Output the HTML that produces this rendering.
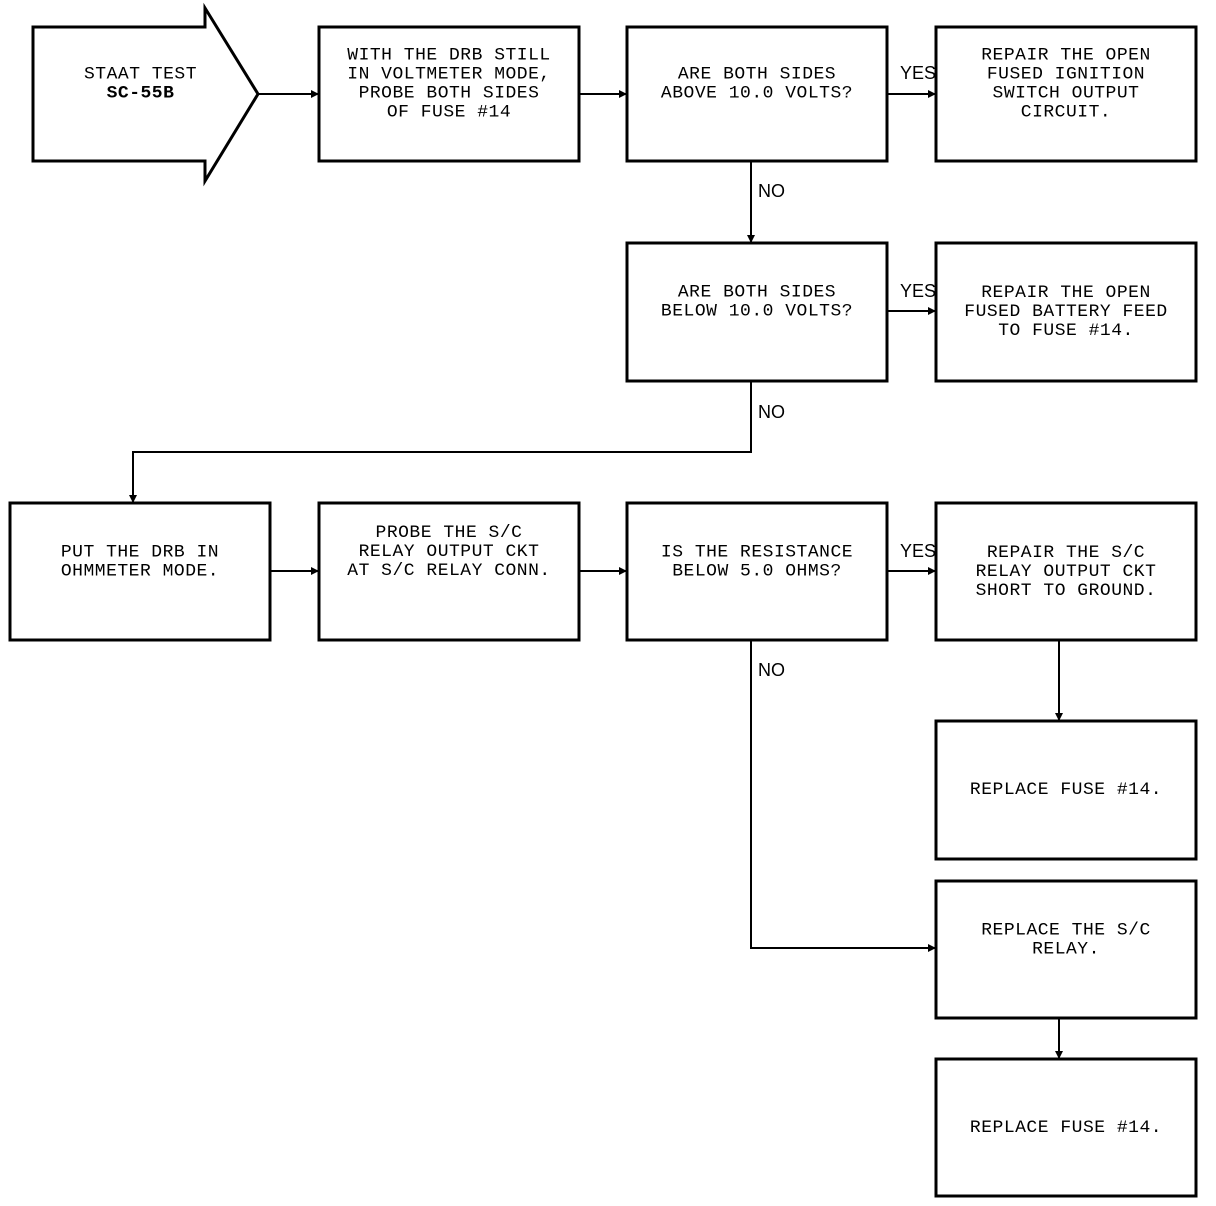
<!DOCTYPE html>
<html><head><style>
body{margin:0;background:#fff;width:1216px;height:1206px;overflow:hidden;position:relative;font-family:"Liberation Mono",monospace;}
.t{position:absolute;font-size:18px;line-height:20px;text-align:center;white-space:pre;color:#000;letter-spacing:0.5px;transform:scaleY(0.95);}
.l{position:absolute;font-size:18px;color:#000;font-family:"Liberation Sans",sans-serif;}
</style></head><body>
<svg width="1216" height="1206" style="position:absolute;left:0;top:0">
<defs><marker id="a" markerWidth="8" markerHeight="8" refX="7" refY="4" orient="auto" markerUnits="userSpaceOnUse"><path d="M0,0L8,4L0,8z" fill="#000"/></marker></defs>
<g fill="none" stroke="#000" stroke-width="3">
<path d="M33,27H205V8L258,94L205,181V161H33Z"/>
<rect x="319" y="27" width="260" height="134"/>
<rect x="627" y="27" width="260" height="134"/>
<rect x="936" y="27" width="260" height="134"/>
<rect x="627" y="243" width="260" height="138"/>
<rect x="936" y="243" width="260" height="138"/>
<rect x="10" y="503" width="260" height="137"/>
<rect x="319" y="503" width="260" height="137"/>
<rect x="627" y="503" width="260" height="137"/>
<rect x="936" y="503" width="260" height="137"/>
<rect x="936" y="721" width="260" height="138"/>
<rect x="936" y="881" width="260" height="137"/>
<rect x="936" y="1059" width="260" height="137"/>
</g>
<g fill="none" stroke="#000" stroke-width="2" marker-end="url(#a)">
<path d="M258,94H318"/>
<path d="M579,94H626"/>
<path d="M887,94H935"/>
<path d="M751,161V242"/>
<path d="M887,311H935"/>
<path d="M751,381V452H133V502"/>
<path d="M270,571H318"/>
<path d="M579,571H626"/>
<path d="M887,571H935"/>
<path d="M1059,640V720"/>
<path d="M751,640V948H935"/>
<path d="M1059,1018V1058"/>
</g>
</svg>
<div class="t" style="left:33px;width:215px;top:64px">STAAT TEST
<b>SC-55B</b></div>
<div class="t" style="left:319px;width:260px;top:44px">WITH THE DRB STILL
IN VOLTMETER MODE,
PROBE BOTH SIDES
OF FUSE #14</div>
<div class="t" style="left:627px;width:260px;top:64px">ARE BOTH SIDES
ABOVE 10.0 VOLTS?</div>
<div class="t" style="left:936px;width:260px;top:44px">REPAIR THE OPEN
FUSED IGNITION
SWITCH OUTPUT
CIRCUIT.</div>
<div class="t" style="left:627px;width:260px;top:282px">ARE BOTH SIDES
BELOW 10.0 VOLTS?</div>
<div class="t" style="left:936px;width:260px;top:282px">REPAIR THE OPEN
FUSED BATTERY FEED
TO FUSE #14.</div>
<div class="t" style="left:10px;width:260px;top:542px">PUT THE DRB IN
OHMMETER MODE.</div>
<div class="t" style="left:319px;width:260px;top:522px">PROBE THE S/C
RELAY OUTPUT CKT
AT S/C RELAY CONN.</div>
<div class="t" style="left:627px;width:260px;top:542px">IS THE RESISTANCE
BELOW 5.0 OHMS?</div>
<div class="t" style="left:936px;width:260px;top:542px">REPAIR THE S/C
RELAY OUTPUT CKT
SHORT TO GROUND.</div>
<div class="t" style="left:936px;width:260px;top:780px">REPLACE FUSE #14.</div>
<div class="t" style="left:936px;width:260px;top:920px">REPLACE THE S/C
RELAY.</div>
<div class="t" style="left:936px;width:260px;top:1118px">REPLACE FUSE #14.</div>
<div class="l" style="left:900px;top:63px">YES</div>
<div class="l" style="left:900px;top:281px">YES</div>
<div class="l" style="left:900px;top:541px">YES</div>
<div class="l" style="left:758px;top:181px">NO</div>
<div class="l" style="left:758px;top:402px">NO</div>
<div class="l" style="left:758px;top:660px">NO</div>
</body></html>
